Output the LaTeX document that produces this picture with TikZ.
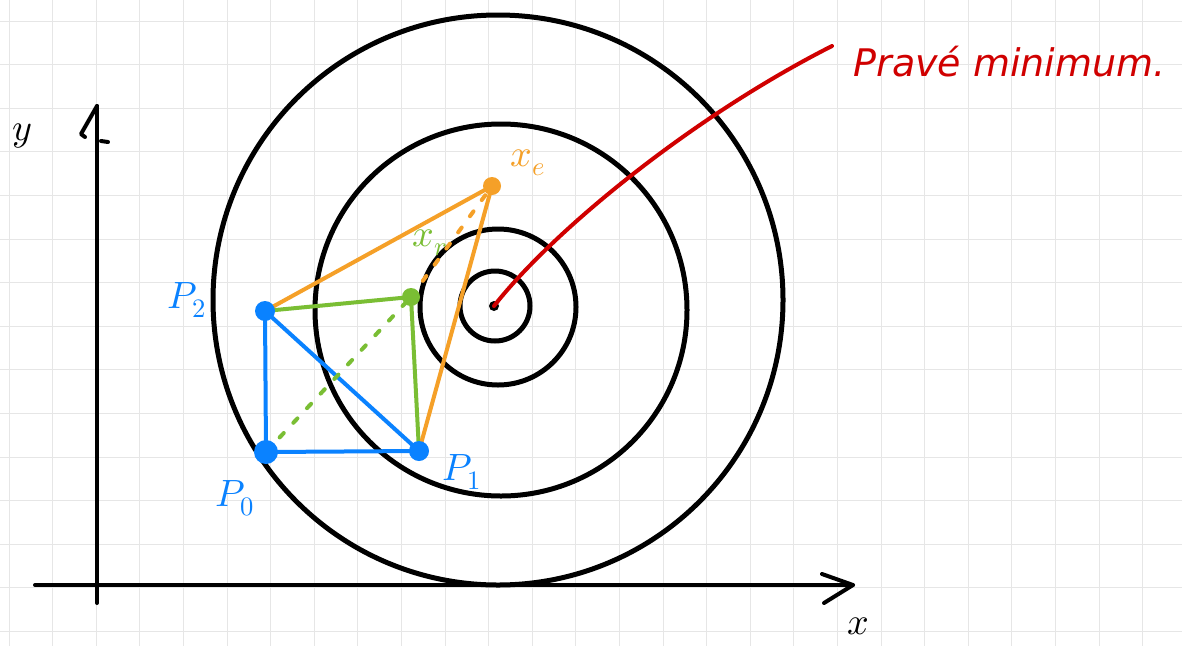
\documentclass[tikz,border=0pt]{standalone}
\usepackage{fontspec}
\usepackage{unicode-math}
\setsansfont{DejaVu Sans}

\definecolor{gridgray}{RGB}{230,230,230}
\definecolor{ptblue}{RGB}{10,130,255}
\definecolor{xrgreen}{RGB}{122,190,52}
\definecolor{xeorange}{RGB}{245,160,40}
\definecolor{notered}{RGB}{208,0,0}

\tikzset{
  ring/.style={line width=5pt, black},
  axis/.style={line width=4pt, black, line cap=round, line join=round},
  simplex/.style={line width=4pt, line cap=round, #1},
  trial/.style={line width=4pt, line cap=round, dash pattern=on 6pt off 14pt, #1},
  dot/.style={circle, fill=#1, inner sep=0pt, minimum size=20pt},
  lbl/.style={font=\fontsize{38}{38}\selectfont, text=#1},
}

\begin{document}
\begin{tikzpicture}[x=1pt, y=-1pt]
    \useasboundingbox[fill=white] (0,0) rectangle (1182,646);

    % grid
    \foreach \i in {0,...,27}
      \draw[gridgray, line width=1pt] (9+43.6*\i, 0) -- (9+43.6*\i, 646);
    \foreach \j in {0,...,14}
      \draw[gridgray, line width=1pt] (0, 21+43.6*\j) -- (1182, 21+43.6*\j);

    \coordinate (O) at (97, 585);
    \coordinate (Xend) at (853, 585);
    \coordinate (Xstart) at (35, 585);
    \coordinate (Ytop) at (97, 106);
    \coordinate (Ybot) at (97, 603);

    % axes
    \draw[axis] (Xstart) -- (Xend);
    \draw[axis] (822, 574) -- (Xend) -- (824, 603);
    \draw[axis] (Ybot) -- (Ytop);
    \draw[axis] (Ytop) -- (81, 134) -- (85, 137);
    \draw[axis] (101, 141) -- (108, 142);

    \node[lbl=black] (ylabel) at (22, 136) {$y$};
    \node[lbl=black] (xlabel) at (858, 626) {$x$};

    % rings around the minimum
    \coordinate (M) at (494, 306);
    \draw[ring] (498, 300) circle[radius=285];
    \draw[ring] (501, 310) circle[radius=186];
    \draw[ring] (498, 307) circle[radius=78];
    \draw[ring] (495, 306) circle[radius=35];

    % simplex
    \coordinate (P0) at (266, 452);
    \coordinate (P1) at (419, 451);
    \coordinate (P2) at (265, 311);
    \coordinate (xr) at (411, 297);
    \coordinate (xe) at (492, 186);

    \draw[simplex=ptblue] (P0) -- (P1);
    \draw[simplex=ptblue] (P0) -- (P2);
    \draw[simplex=ptblue] (P2) -- (P1);

    \draw[trial=xrgreen] (P0) -- (xr);
    \draw[trial=xeorange] (xr) -- (xe);

    \draw[simplex=xrgreen] (P2) -- (xr) -- (P1);
    \draw[simplex=xeorange] (P2) -- (xe) -- (P1);

    \node[dot=ptblue, minimum size=24pt] (p0dot) at (P0) {};
    \node[dot=ptblue] (p1dot) at (P1) {};
    \node[dot=ptblue] (p2dot) at (P2) {};
    \node[dot=xrgreen, minimum size=18pt] (xrdot) at (xr) {};
    \node[dot=xeorange, minimum size=18pt] (xedot) at (xe) {};
    \node[dot=black, minimum size=10pt] (mdot) at (M) {};

    \node[lbl=ptblue] (p0label) at (235, 498) {$P_0$};
    \node[lbl=ptblue] (p1label) at (462, 472) {$P_1$};
    \node[lbl=ptblue] (p2label) at (187, 300) {$P_2$};
    \node[lbl=xrgreen] (xrlabel) at (430, 243) {$x_r$};
    \node[lbl=xeorange] (xelabel) at (528, 163) {$x_e$};

    % true minimum
    \coordinate (note) at (832, 46);
    \draw[line width=4pt, notered, line cap=round] (M) .. controls (552, 232) and (690, 118) .. (note);
    \node[anchor=west, text=notered, font=\sffamily\itshape\fontsize{38}{38}\selectfont] (notelabel) at (850, 62) {Pravé minimum.};
\end{tikzpicture}
\end{document}
